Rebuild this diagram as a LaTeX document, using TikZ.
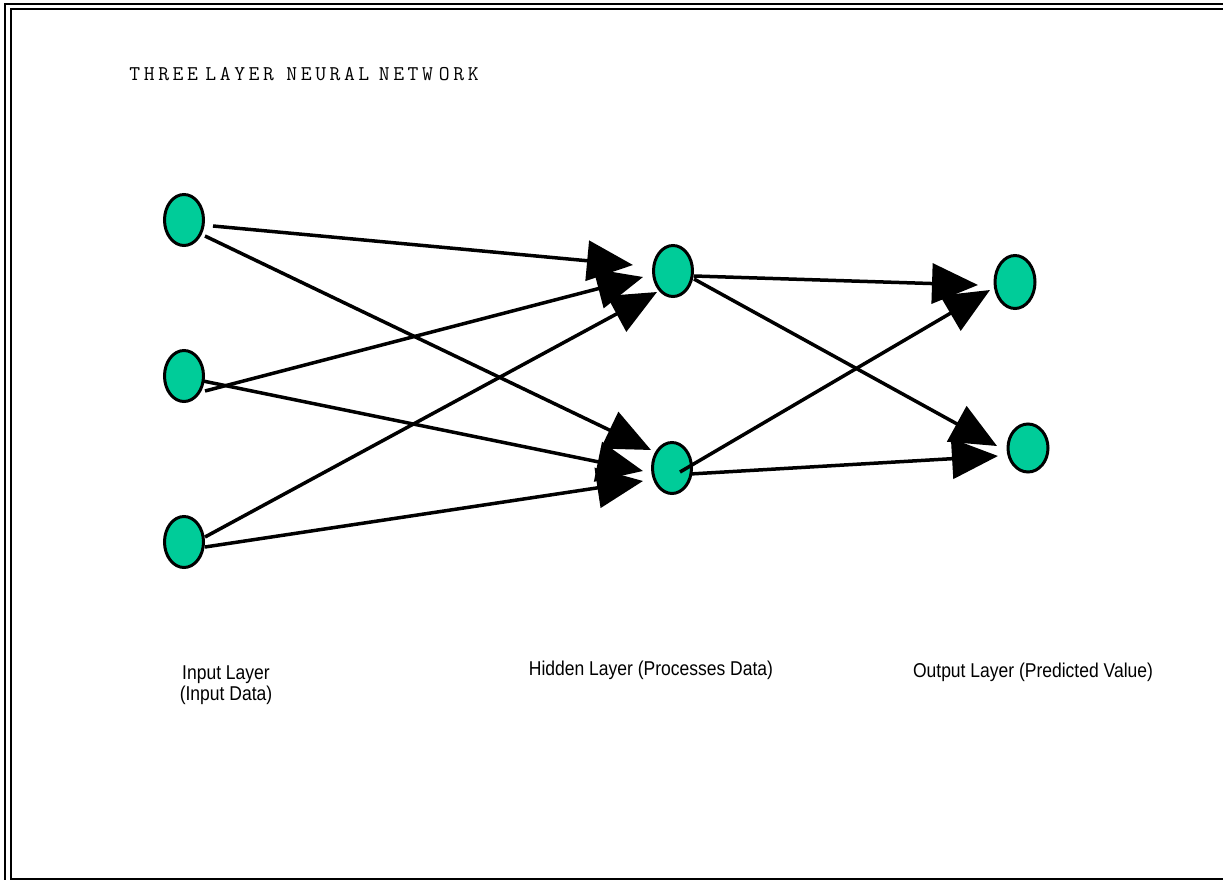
\documentclass[tikz,border=0pt]{standalone}
\usepackage{fontspec}
\usetikzlibrary{shapes.geometric,arrows.meta}
\newfontfamily\titlefont{Latin Modern Mono}
\newfontfamily\labelfont[FakeStretch=0.875]{Liberation Sans}
\definecolor{neuron}{RGB}{0,204,153}
% spread the letters of a word on a fixed pitch
\def\tspread#1{\ifx#1\relax\else\makebox[14.4pt][c]{#1}\expandafter\tspread\fi}
\tikzset{
  neuronnode/.style={ellipse, draw=black, line width=3pt, fill=neuron, minimum width=39pt, minimum height=51pt, inner sep=0pt},
  arr/.style={line width=3.5pt, -{Triangle[length=46pt,width=40pt]}},
  frameline/.style={line width=2pt},
  lbl/.style={font=\labelfont\fontsize{20}{21}\selectfont, inner sep=0pt, align=center}
}
\begin{document}
\begin{tikzpicture}[x=1pt,y=-1pt]
\useasboundingbox (0,0) rectangle (1223,880);
% frame
\draw[frameline] (4.5,880) -- (4.5,4.5) -- (1224,4.5);
\draw[frameline] (1224,9.5) -- (10.5,9.5) -- (10.5,878.8) -- (1224,878.8);
% title
\node[anchor=base west, inner sep=0pt, font=\titlefont\fontsize{21}{24}\selectfont] (title) at (127.5,81)
  {\tspread THREE\relax\hspace{4pt}\tspread LAYER\relax\hspace{9pt}\tspread NEURAL\relax\hspace{6pt}\tspread NETW\relax\hspace{2.5pt}\tspread ORK\relax};
% neurons
\node[neuronnode] (i1) at (184,220) {};
\node[neuronnode] (i2) at (184,376) {};
\node[neuronnode] (i3) at (184,542) {};
\node[neuronnode] (h1) at (673,271) {};
\node[neuronnode] (h2) at (672,468) {};
\node[neuronnode, minimum width=40pt, minimum height=53pt] (o1) at (1015,282) {};
\node[neuronnode, minimum width=40pt, minimum height=48pt] (o2) at (1028,448) {};
% connectors
\draw[arr] ([shift={(29,6)}]i1.center) -- ([shift={(-40,-6)}]h1.center);
\draw[arr] ([shift={(21,16)}]i1.center) -- ([shift={(-21,-18)}]h2.center);
\draw[arr] ([shift={(21,15)}]i2.center) -- ([shift={(-30,6)}]h1.center);
\draw[arr] ([shift={(19,5)}]i2.center) -- ([shift={(-29,3)}]h2.center);
\draw[arr] ([shift={(21,-5)}]i3.center) -- ([shift={(-16,21)}]h1.center);
\draw[arr] ([shift={(21,5)}]i3.center) -- ([shift={(-29,13)}]h2.center);
\draw[arr] ([shift={(21,5)}]h1.center) -- ([shift={(-37,3)}]o1.center);
\draw[arr] ([shift={(21,8)}]h1.center) -- ([shift={(-31,-2)}]o2.center);
\draw[arr] ([shift={(8,4)}]h2.center) -- ([shift={(-25,8)}]o1.center);
\draw[arr] ([shift={(18,6)}]h2.center) -- ([shift={(-30,8)}]o2.center);
% labels
\node[lbl, anchor=base] (linput) at (226,700) {Input Layer\\(Input Data)};
\node[lbl, anchor=base] (lhidden) at (651,675) {Hidden Layer (Processes Data)};
\node[lbl, anchor=base] (loutput) at (1033,677) {Output Layer (Predicted Value)};
\end{tikzpicture}
\end{document}
